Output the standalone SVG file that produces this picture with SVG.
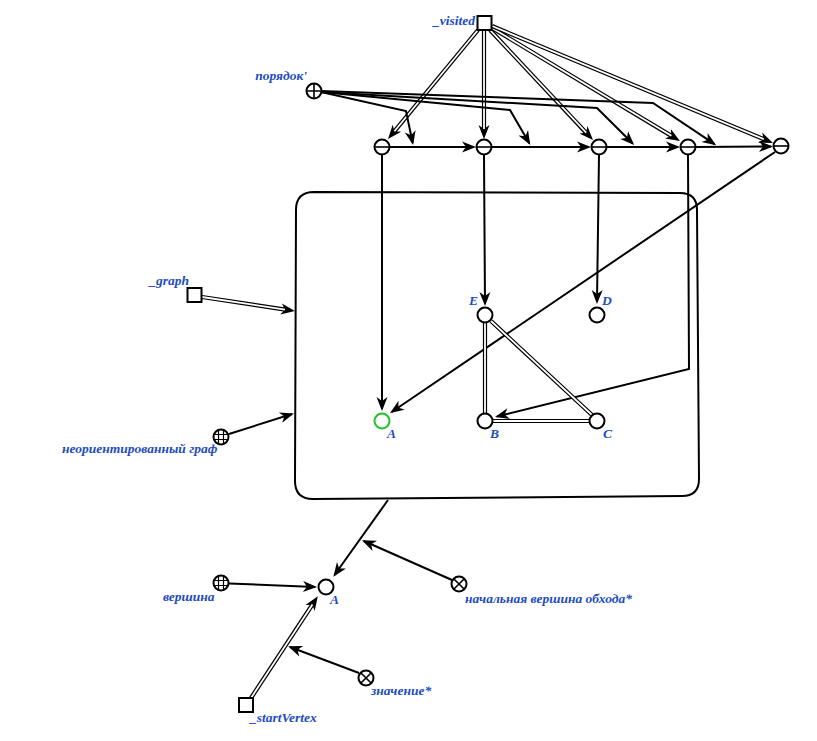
<svg xmlns="http://www.w3.org/2000/svg" width="817" height="741" viewBox="0 0 817 741">
  <style>
    .lbl { font-family: "Liberation Serif", "DejaVu Serif", serif; font-style: italic; font-weight: bold; font-size: 13.5px; fill: #1d4cc0; }
    .nd { fill: #fff; stroke: #000; stroke-width: 2; }
    .mk { stroke: #000; stroke-width: 1.6; fill: none; }
    .ln { fill: none; stroke: #000; stroke-width: 2; }
    .dbo { fill: none; stroke: #000; stroke-width: 4.2; }
    .dbi { fill: none; stroke: #fff; stroke-width: 1.8; }
    .box { fill: none; stroke: #000; stroke-width: 2; }
  </style>
  <defs>
    <!-- barbed arrowhead, tip 2px past the path end -->
    <marker id="ah" markerUnits="userSpaceOnUse" markerWidth="24" markerHeight="16" viewBox="-14 -8 24 16" refX="0" refY="0" orient="auto" overflow="visible">
      <path d="M2,0 L-12,-5.5 L-8,0 L-12,5.5 Z" fill="#000"/>
    </marker>
    <!-- arrowhead for double lines, tip 8px past the path end -->
    <marker id="ahd" markerUnits="userSpaceOnUse" markerWidth="24" markerHeight="16" viewBox="-14 -8 24 16" refX="0" refY="0" orient="auto" overflow="visible">
      <path d="M8,0 L-6,-5.5 L-2,0 L-6,5.5 Z" fill="#000"/>
    </marker>
  </defs>
  <rect width="817" height="741" fill="#fff"/>

  <!-- container of the graph -->
  <g id="graphBox">
    <path class="box" d="M314,192 L680,193 Q697,193 697,210 L699,479 Q699,496 682,496 L313,499 Q295,499 295,481 L296,210 Q296,192 314,192 Z"/>
  </g>

  <g id="connectors">
    <!-- _visited to the order nodes -->
    <g>
      <path class="dbo" d="M478,30 L393.1,132.8" marker-end="url(#ahd)"/>
      <path class="dbi" d="M478,30 L394.4,131.3"/>
      <path class="dbo" d="M484,30 L484,131" marker-end="url(#ahd)"/>
      <path class="dbi" d="M484,30 L484,129"/>
      <path class="dbo" d="M490,30 L587.5,134.2" marker-end="url(#ahd)"/>
      <path class="dbi" d="M490,30 L586.2,132.7"/>
      <path class="dbo" d="M492,28 L673.1,136.9" marker-end="url(#ahd)"/>
      <path class="dbi" d="M492,28 L671.4,135.8"/>
      <path class="dbo" d="M492,26 L765.6,139.9" marker-end="url(#ahd)"/>
      <path class="dbi" d="M492,26 L763.8,139.2"/>
    </g>
    <!-- chain of order nodes -->
    <path class="ln" d="M390,147 L474,147" marker-end="url(#ah)"/>
    <path class="ln" d="M492,147 L589,147" marker-end="url(#ah)"/>
    <path class="ln" d="M607,147 L678,147" marker-end="url(#ah)"/>
    <path class="ln" d="M696,147 L771,146.5" marker-end="url(#ah)"/>
    <!-- порядок' to the chain links -->
    <path class="ln" d="M321,92 L406,111 L412.7,143" marker-end="url(#ah)"/>
    <path class="ln" d="M321,92 L510,110 L529.3,143.2" marker-end="url(#ah)"/>
    <path class="ln" d="M321,92 L597,108 L632.7,143.5" marker-end="url(#ah)"/>
    <path class="ln" d="M321,91 L653,103 L714.5,144.2" marker-end="url(#ah)"/>
    <!-- order nodes to graph vertices -->
    <path class="ln" d="M382,155 L382,409" marker-end="url(#ah)"/>
    <path class="ln" d="M484,155 L485,304" marker-end="url(#ah)"/>
    <path class="ln" d="M599,155 L597,302" marker-end="url(#ah)"/>
    <path class="ln" d="M688,155 L689,369 L497,416.5" marker-end="url(#ah)"/>
    <path class="ln" d="M775,152 L391.7,412" marker-end="url(#ah)"/>
    <!-- edges of the graph -->
    <path class="dbo" d="M485,323 L485,413 M491,321 L592,415 M493,421 L589,421"/>
    <path class="dbi" d="M485,323 L485,413 M491,321 L592,415 M493,421 L589,421"/>
    <!-- inputs of the graph box -->
    <path class="dbo" d="M202,297 L287,309.9" marker-end="url(#ahd)"/>
    <path class="dbi" d="M202,297 L285,309.6"/>
    <path class="ln" d="M229,434 L292,414" marker-end="url(#ah)"/>
    <!-- box to start vertex -->
    <path class="ln" d="M388,500 L334.5,575" marker-end="url(#ah)"/>
    <path class="ln" d="M452,580 L363.8,541" marker-end="url(#ah)"/>
    <path class="ln" d="M229,583.5 L315,587" marker-end="url(#ah)"/>
    <path class="dbo" d="M251,698 L313.4,603" marker-end="url(#ahd)"/>
    <path class="dbi" d="M251,698 L312.5,604.4"/>
    <path class="ln" d="M359,673 L290,647" marker-end="url(#ah)"/>
  </g>

  <g id="visited">
    <rect class="nd" x="477.5" y="16" width="14" height="14"/>
    <text class="lbl" x="475" y="25" text-anchor="end">_visited</text>
  </g>
  <g id="order">
    <circle class="nd" cx="314" cy="91" r="7.5"/>
    <path class="mk" d="M306.5,91 H321.5 M314,83.5 V98.5"/>
    <text class="lbl" x="307" y="80" text-anchor="end">порядок'</text>
  </g>

  <g id="m1"><circle class="nd" cx="382" cy="147" r="7.5"/><path class="mk" d="M374.5,147 H389.5"/></g>
  <g id="m2"><circle class="nd" cx="484" cy="147" r="7.5"/><path class="mk" d="M476.5,147 H491.5"/></g>
  <g id="m3"><circle class="nd" cx="599" cy="147" r="7.5"/><path class="mk" d="M591.5,147 H606.5"/></g>
  <g id="m4"><circle class="nd" cx="688" cy="147" r="7.5"/><path class="mk" d="M680.5,147 H695.5"/></g>
  <g id="m5"><circle class="nd" cx="781" cy="146" r="7.5"/><path class="mk" d="M773.5,146 H788.5"/></g>

  <g id="vE"><circle class="nd" cx="485" cy="315" r="7.5"/><text class="lbl" x="478" y="305" text-anchor="end">E</text></g>
  <g id="vD"><circle class="nd" cx="597" cy="315" r="7.5"/><text class="lbl" x="602" y="305">D</text></g>
  <g id="vA"><circle class="nd" cx="382" cy="421" r="7.5" style="stroke:#22c02a"/><text class="lbl" x="387" y="438">A</text></g>
  <g id="vB"><circle class="nd" cx="485" cy="421" r="7.5"/><text class="lbl" x="490" y="438">B</text></g>
  <g id="vC"><circle class="nd" cx="597" cy="421" r="7.5"/><text class="lbl" x="603" y="438">C</text></g>

  <g id="graph">
    <rect class="nd" x="187.5" y="288" width="14" height="14"/>
    <text class="lbl" x="189" y="285" text-anchor="end">_graph</text>
  </g>
  <g id="undirectedGraph">
    <circle class="nd" cx="221" cy="437" r="7.5"/>
    <path class="mk" style="stroke-width:1.2" d="M213.5,434.5 H228.5 M213.5,439.5 H228.5 M218.5,429.5 V444.5 M223.5,429.5 V444.5"/>
    <text class="lbl" x="62" y="453">неориентированный граф</text>
  </g>

  <g id="vA2"><circle class="nd" cx="326" cy="587" r="7.5"/><text class="lbl" x="330" y="604">A</text></g>
  <g id="vertex">
    <circle class="nd" cx="221" cy="583" r="7.5"/>
    <path class="mk" style="stroke-width:1.2" d="M213.5,580.5 H228.5 M213.5,585.5 H228.5 M218.5,575.5 V590.5 M223.5,575.5 V590.5"/>
    <text class="lbl" x="163" y="601">вершина</text>
  </g>
  <g id="startTraversal">
    <circle class="nd" cx="459" cy="584" r="7.5"/>
    <path class="mk" d="M453.7,578.7 L464.3,589.3 M464.3,578.7 L453.7,589.3"/>
    <text class="lbl" x="465" y="603">начальная вершина обхода*</text>
  </g>
  <g id="startVertex">
    <rect class="nd" x="239" y="698" width="14" height="14"/>
    <text class="lbl" x="250" y="722">_startVertex</text>
  </g>
  <g id="value">
    <circle class="nd" cx="366" cy="678" r="7.5"/>
    <path class="mk" d="M360.7,672.7 L371.3,683.3 M371.3,672.7 L360.7,683.3"/>
    <text class="lbl" x="371" y="695">значение*</text>
  </g>
</svg>
